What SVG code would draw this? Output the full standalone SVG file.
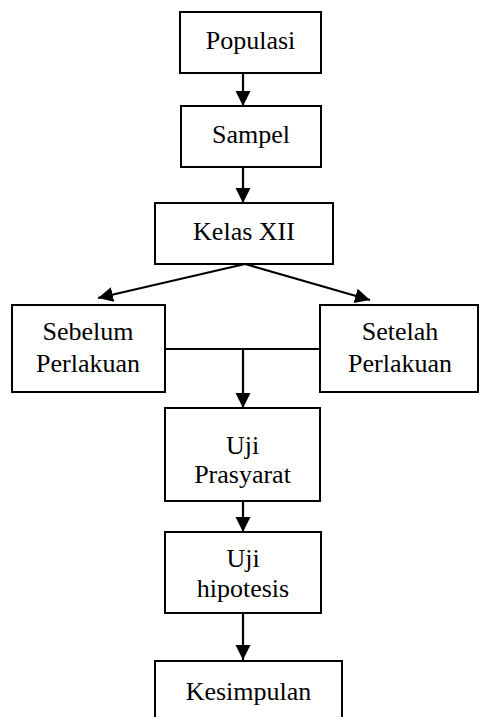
<svg xmlns="http://www.w3.org/2000/svg" width="479" height="717" viewBox="0 0 479 717">
<style>
.box{fill:#fff;stroke:#000;stroke-width:2}
.t{font-family:"Liberation Serif","Times New Roman",serif;font-size:26px;fill:#000;text-anchor:middle}
.c{fill:none;stroke:#000;stroke-width:2.2}
</style>
<defs>
<marker id="ah" markerUnits="userSpaceOnUse" markerWidth="16" markerHeight="16" viewBox="0 0 16 16" refX="15" refY="8" orient="auto">
<path d="M0,0.5 L15,8 L0,15.5 Z" fill="#000"/>
</marker>
</defs>
<g id="connectors">
<line class="c" x1="243" y1="73" x2="243" y2="106" marker-end="url(#ah)"/>
<line class="c" x1="243" y1="167" x2="243" y2="203" marker-end="url(#ah)"/>
<line class="c" x1="245" y1="264" x2="98" y2="298" marker-end="url(#ah)"/>
<line class="c" x1="245" y1="264" x2="370" y2="300" marker-end="url(#ah)"/>
<line class="c" x1="165" y1="349" x2="320" y2="349"/>
<line class="c" x1="243" y1="349" x2="243" y2="408" marker-end="url(#ah)"/>
<line class="c" x1="243" y1="501" x2="243" y2="532" marker-end="url(#ah)"/>
<line class="c" x1="243" y1="613" x2="243" y2="660" marker-end="url(#ah)"/>
</g>
<g id="populasi"><rect class="box" x="180" y="12" width="141" height="61"/><text class="t" x="250.5" y="49">Populasi</text></g>
<g id="sampel"><rect class="box" x="181" y="106" width="140" height="61"/><text class="t" x="251" y="143">Sampel</text></g>
<g id="kelas"><rect class="box" x="155" y="203" width="178" height="61"/><text class="t" x="244" y="240">Kelas XII</text></g>
<g id="sebelum"><rect class="box" x="12" y="305" width="153" height="87"/><text class="t" x="88" y="340">Sebelum</text><text class="t" x="88" y="372">Perlakuan</text></g>
<g id="setelah"><rect class="box" x="320" y="305" width="158" height="87"/><text class="t" x="400" y="340">Setelah</text><text class="t" x="400" y="372">Perlakuan</text></g>
<g id="prasyarat"><rect class="box" x="165" y="408" width="155" height="93"/><text class="t" x="242.5" y="454">Uji</text><text class="t" x="242.5" y="483">Prasyarat</text></g>
<g id="hipotesis"><rect class="box" x="165" y="532" width="156" height="81"/><text class="t" x="243" y="567">Uji</text><text class="t" x="243" y="597">hipotesis</text></g>
<g id="kesimpulan"><rect class="box" x="155" y="661" width="187" height="70"/><text class="t" x="248.5" y="700">Kesimpulan</text></g>
</svg>
